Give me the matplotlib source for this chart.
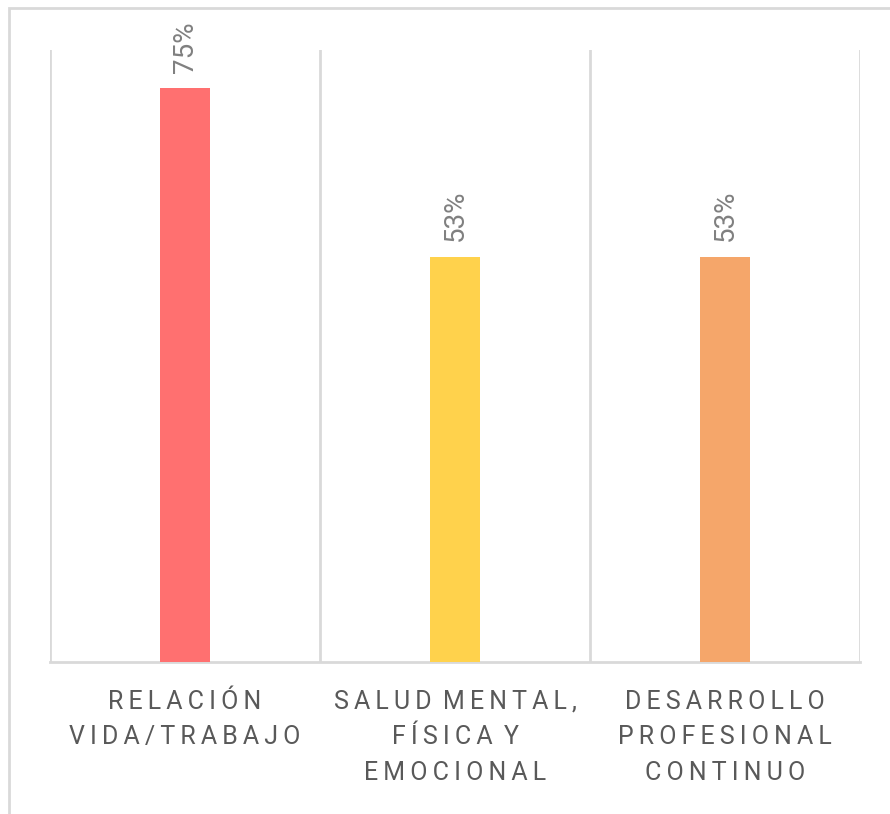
import matplotlib.pyplot as plt
from matplotlib.patches import Rectangle

categorias = ['RELACIÓN\nVIDA/TRABAJO', 'SALUD MENTAL,\nFÍSICA Y\nEMOCIONAL', 'DESARROLLO\nPROFESIONAL\nCONTINUO']
valores = [0.75, 0.53, 0.53]
colores = ['#FF7070', '#FFD24C', '#F5A66A']

plt.rcParams['font.family'] = ['Roboto', 'DejaVu Sans']


def espaciar(texto):
    # letter spacing a mano con thin spaces
    lineas = []
    for linea in texto.split('\n'):
        palabras = ['\u2009'.join(p) for p in linea.split(' ')]
        lineas.append('\u2009 '.join(palabras))
    return '\n'.join(lineas)


fig = plt.figure(figsize=(8.9, 8.14), dpi=100)
ax = fig.add_axes([50 / 890, 1 - 662 / 814, 810 / 890, 612 / 814])

x = range(len(valores))
barras = ax.bar(x, valores, width=0.185, color=colores, zorder=3)

for b, v in zip(barras, valores):
    ax.annotate(f'{v * 100:.0f}%', (b.get_x() + b.get_width() / 2, v),
                xytext=(0, 11), textcoords='offset points', rotation=90,
                ha='center', va='bottom', fontsize=20, color='#808080')

# lineas verticales entre categorias
for xv in [-0.5, 0.5, 1.5, 2.5]:
    ax.axvline(xv, color='#D9D9D9', lw=2, zorder=1)

ax.set_xlim(-0.5, 2.5)
ax.set_ylim(0, 0.8)
ax.set_yticks([])
ax.set_xticks(list(x))
ax.set_xticklabels([espaciar(c) for c in categorias], fontsize=18,
                   color='#595959', linespacing=1.6)
ax.tick_params(axis='x', length=0, pad=20)

for s in ['top', 'right', 'left']:
    ax.spines[s].set_visible(False)
ax.spines['bottom'].set_color('#D9D9D9')
ax.spines['bottom'].set_linewidth(2)

# borde exterior
fig.patches.append(Rectangle((9 / 890, -0.05), 1.0, 1.05 - 8 / 814,
                             transform=fig.transFigure, fill=False,
                             edgecolor='#D9D9D9', lw=2))

fig.savefig('out.png', dpi=100)
